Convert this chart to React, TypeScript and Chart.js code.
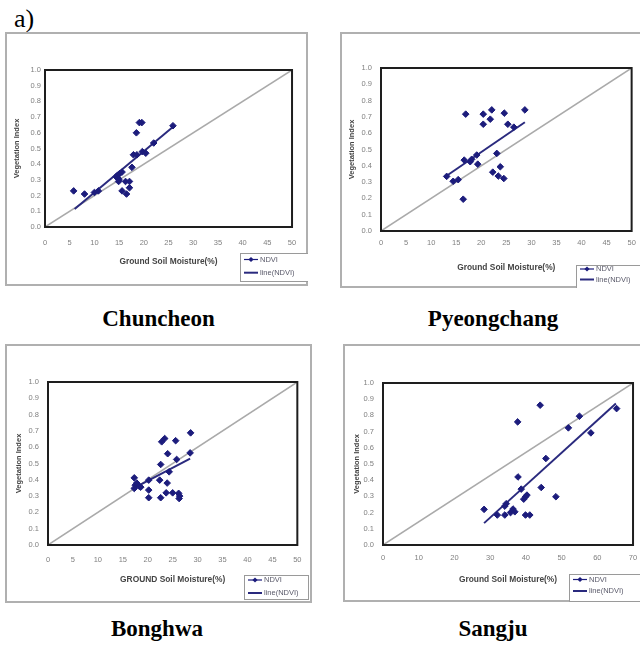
import React, { useEffect, useRef } from 'react';
import { Chart, registerables } from 'chart.js';

Chart.register(...registerables);

// ---------- DATA ----------
const chuncheonMoisture = [5.8, 8.0, 10.0, 10.8, 14.4, 14.7, 14.8, 14.9, 15.0, 15.1, 15.6, 15.6, 16.3, 16.5, 17.1, 17.1, 17.6, 17.9, 18.6, 18.5, 19.1, 19.6, 19.7, 20.4, 22.0, 25.9];
const chuncheonNdvi = [0.23, 0.21, 0.22, 0.23, 0.32, 0.33, 0.31, 0.29, 0.30, 0.34, 0.35, 0.23, 0.29, 0.21, 0.29, 0.25, 0.38, 0.46, 0.46, 0.60, 0.665, 0.665, 0.48, 0.47, 0.535, 0.645];
const chuncheonTrendX = [6.0, 26.0];
const chuncheonTrendY = [0.115, 0.64];

const pyeongchangMoisture = [13.1, 14.4, 15.4, 16.4, 16.6, 16.9, 17.8, 18.1, 19.1, 19.3, 20.4, 20.4, 21.8, 22.1, 22.3, 23.1, 23.4, 23.8, 24.5, 24.6, 25.3, 26.5, 28.7];
const pyeongchangNdvi = [0.335, 0.305, 0.315, 0.195, 0.435, 0.717, 0.425, 0.44, 0.466, 0.41, 0.717, 0.655, 0.686, 0.743, 0.361, 0.476, 0.337, 0.394, 0.322, 0.723, 0.655, 0.637, 0.743];
const pyeongchangTrendX = [13.1, 28.7];
const pyeongchangTrendY = [0.339, 0.667];

const bonghwaMoisture = [17.3, 17.5, 17.3, 17.8, 18.3, 18.6, 20.2, 20.2, 20.2, 22.4, 22.6, 22.6, 22.8, 23.4, 23.7, 23.9, 24.0, 24.3, 25.0, 25.6, 25.8, 26.2, 26.4, 26.3, 28.5, 28.6];
const bonghwaNdvi = [0.412, 0.367, 0.347, 0.38, 0.36, 0.355, 0.398, 0.337, 0.29, 0.398, 0.494, 0.29, 0.633, 0.653, 0.32, 0.38, 0.56, 0.449, 0.32, 0.64, 0.525, 0.317, 0.30, 0.285, 0.565, 0.688];
const bonghwaTrendX = [17.6, 28.5];
const bonghwaTrendY = [0.355, 0.53];

const sangjuMoisture = [28.3, 32.0, 34.1, 34.1, 34.5, 35.7, 36.4, 36.9, 37.7, 37.8, 38.7, 39.4, 39.9, 40.3, 39.9, 41.1, 44.0, 44.3, 45.6, 48.4, 51.9, 55.0, 58.2, 65.4];
const sangjuNdvi = [0.22, 0.185, 0.185, 0.24, 0.255, 0.2, 0.222, 0.205, 0.76, 0.42, 0.345, 0.283, 0.298, 0.308, 0.185, 0.185, 0.863, 0.355, 0.534, 0.298, 0.723, 0.795, 0.692, 0.842];
const sangjuTrendX = [28.3, 65.2];
const sangjuTrendY = [0.135, 0.873];

const diagonalY = [0, 1];
const yAxisMin = 0;
const yAxisMax = 1;
const yAxisStep = 0.1;
const xAxisMaxes = [50, 50, 50, 70];
const xAxisSteps = [5, 5, 5, 10];
const xTitles = ['Ground Soil Moisture(%)', 'Ground Soil Moisture(%)', 'GROUND Soil Moisture(%)', 'Ground Soil Moisture(%)'];
const siteNames = ['Chuncheon', 'Pyeongchang', 'Bonghwa', 'Sangju'];
const legendLabels = ['NDVI', 'line(NDVI)'];
const yTitle = 'Vegetation Index';

// ---------- LAYOUT ----------
const FONT = '"Liberation Sans", Arial, sans-serif';
const SERIF = '"Liberation Serif", "Times New Roman", serif';
const NAVY = '#1c1c7c';
const TREND = '#2a2a7e';

const layouts = [
  { box: { x: 5, y: 32, w: 303, h: 254 }, plot: { l: 40, t: 38, r: 291, b: 195 }, xTickPad: 11.8, yTickPad: 4, yTitlePad: 7.5, xTitlePad: 19.5, legend: { x: 235, y: 221, w: 69, h: 28, r1: 6.5, r2: 19.7 }, caption: { cx: 158.5, base: 326 } },
  { box: { x: 340, y: 32, w: 303, h: 256 }, plot: { l: 41, t: 36, r: 296, b: 199 }, xTickPad: 7.2, yTickPad: 9, yTitlePad: 7.8, xTitlePad: 14.9, legend: { x: 236, y: 233, w: 72, h: 23, r1: 4, r2: 14.5 }, caption: { cx: 493, base: 326 } },
  { box: { x: 5, y: 344, w: 307, h: 259 }, plot: { l: 43, t: 38, r: 297, b: 201 }, xTickPad: 10.5, yTickPad: 9, yTitlePad: 9.8, xTitlePad: 18.2, legend: { x: 239, y: 231, w: 64, h: 24, r1: 5, r2: 18 }, caption: { cx: 157, base: 636 } },
  { box: { x: 343, y: 344, w: 303, h: 258 }, plot: { l: 40, t: 39, r: 292, b: 201 }, xTickPad: 8.8, yTickPad: 9, yTitlePad: 9.8, xTitlePad: 17.2, legend: { x: 226, y: 230, w: 76, h: 27, r1: 5.5, r2: 17 }, caption: { cx: 493, base: 636 } },
];

const seriesX = [chuncheonMoisture, pyeongchangMoisture, bonghwaMoisture, sangjuMoisture];
const seriesY = [chuncheonNdvi, pyeongchangNdvi, bonghwaNdvi, sangjuNdvi];
const trendXs = [chuncheonTrendX, pyeongchangTrendX, bonghwaTrendX, sangjuTrendX];
const trendYs = [chuncheonTrendY, pyeongchangTrendY, bonghwaTrendY, sangjuTrendY];

function Panel({ idx }: { idx: number }) {
  const ref = useRef<HTMLCanvasElement>(null);
  const L = layouts[idx];
  useEffect(() => {
    const canvas = ref.current;
    if (!canvas) return;
    const W = L.box.w;
    const H = L.box.h;
    const xMax = xAxisMaxes[idx];
    const framePlugin = {
      id: 'frameLegend',
      afterDraw(chart: any) {
        const { ctx, chartArea: a } = chart;
        ctx.save();
        ctx.strokeStyle = '#1e1e1e';
        ctx.lineWidth = 2;
        ctx.strokeRect(a.left, a.top, a.right - a.left, a.bottom - a.top);
        const lg = L.legend;
        ctx.fillStyle = '#ffffff';
        ctx.fillRect(lg.x, lg.y, lg.w, lg.h);
        ctx.lineWidth = 1;
        ctx.strokeStyle = '#9a9a9a';
        ctx.strokeRect(lg.x + 0.5, lg.y + 0.5, lg.w, lg.h);
        const rowsY = [lg.y + lg.r1, lg.y + lg.r2];
        ctx.strokeStyle = NAVY;
        ctx.lineWidth = 1.2;
        ctx.beginPath();
        ctx.moveTo(lg.x + 4, rowsY[0]);
        ctx.lineTo(lg.x + 18, rowsY[0]);
        ctx.stroke();
        ctx.fillStyle = NAVY;
        ctx.beginPath();
        const cx = lg.x + 11, cy = rowsY[0];
        ctx.moveTo(cx, cy - 2.6);
        ctx.lineTo(cx + 2.6, cy);
        ctx.lineTo(cx, cy + 2.6);
        ctx.lineTo(cx - 2.6, cy);
        ctx.closePath();
        ctx.fill();
        ctx.strokeStyle = TREND;
        ctx.lineWidth = 2;
        ctx.beginPath();
        ctx.moveTo(lg.x + 4, rowsY[1]);
        ctx.lineTo(lg.x + 18, rowsY[1]);
        ctx.stroke();
        ctx.fillStyle = '#5a5a6a';
        ctx.font = `7.5px ${FONT}`;
        ctx.textBaseline = 'middle';
        ctx.textAlign = 'left';
        ctx.fillText(legendLabels[0], lg.x + 20, rowsY[0]);
        ctx.fillText(legendLabels[1], lg.x + 20, rowsY[1]);
        ctx.restore();
      },
    };
    const chart = new Chart(canvas, {
      type: 'scatter',
      data: {
        datasets: [
          {
            label: legendLabels[0],
            data: seriesX[idx].map((x, i) => ({ x, y: seriesY[idx][i] })),
            pointStyle: 'rectRot',
            pointRadius: 3.3,
            backgroundColor: NAVY,
            borderColor: NAVY,
            borderWidth: 1,
            order: 0,
          },
          {
            label: legendLabels[1],
            data: trendXs[idx].map((x, i) => ({ x, y: trendYs[idx][i] })),
            showLine: true,
            pointRadius: 0,
            borderColor: TREND,
            borderWidth: 2,
            order: 1,
          },
          {
            label: 'diagonal',
            data: [{ x: 0, y: diagonalY[0] }, { x: xMax, y: diagonalY[1] }],
            showLine: true,
            pointRadius: 0,
            borderColor: '#aaaaaa',
            borderWidth: 1.5,
            order: 2,
          },
        ],
      },
      options: {
        animation: false,
        responsive: false,
        devicePixelRatio: 1,
        events: [],
        layout: { padding: { left: 0, top: L.plot.t, right: W - L.plot.r, bottom: 0 } },
        plugins: { legend: { display: false }, tooltip: { enabled: false } },
        scales: {
          x: {
            type: 'linear',
            min: 0,
            max: xMax,
            grid: { display: false, drawTicks: false },
            border: { display: false },
            ticks: {
              stepSize: xAxisSteps[idx],
              padding: L.xTickPad,
              color: '#808080',
              font: { size: 7.5, family: FONT },
              maxRotation: 0,
              autoSkip: false,
            },
            title: {
              display: true,
              text: xTitles[idx],
              color: '#444444',
              font: { size: 8.4, weight: 'bold', family: FONT },
              padding: { top: 0, bottom: L.xTitlePad },
            },
            afterFit: (s: any) => {
              s.height = H - L.plot.b;
            },
          },
          y: {
            type: 'linear',
            min: yAxisMin,
            max: yAxisMax,
            grid: { display: false, drawTicks: false },
            border: { display: false },
            ticks: {
              stepSize: yAxisStep,
              padding: L.yTickPad,
              color: '#808080',
              font: { size: 7.5, family: FONT },
              callback: (v: any) => Number(v).toFixed(1),
            },
            title: {
              display: true,
              text: yTitle,
              color: '#444444',
              font: { size: 7.5, weight: 'bold', family: FONT },
              padding: { top: L.yTitlePad, bottom: 0 },
            },
            afterFit: (s: any) => {
              s.width = L.plot.l;
            },
          },
        },
      },
      plugins: [framePlugin],
    } as any);
    return () => chart.destroy();
  }, [idx]);

  return (
    <>
      <div
        style={{
          position: 'absolute',
          left: L.box.x,
          top: L.box.y,
          width: L.box.w,
          height: L.box.h,
          boxSizing: 'border-box',
          border: '2px solid #b0b0b0',
          background: '#ffffff',
        }}
      />
      <canvas
        ref={ref}
        width={L.box.w}
        height={L.box.h}
        style={{ position: 'absolute', left: L.box.x, top: L.box.y, width: L.box.w, height: L.box.h }}
      />
      <div
        style={{
          position: 'absolute',
          left: L.caption.cx - 150,
          width: 300,
          top: L.caption.base - 19.3,
          textAlign: 'center',
          fontFamily: SERIF,
          fontWeight: 'bold',
          fontSize: 23,
          lineHeight: '23px',
          color: '#000',
          whiteSpace: 'nowrap',
        }}
      >
        {siteNames[idx]}
      </div>
    </>
  );
}

export default function App() {
  return (
    <div
      style={{
        position: 'absolute',
        left: 0,
        top: 0,
        width: 640,
        height: 646,
        overflow: 'hidden',
        background: '#ffffff',
      }}
    >
      <div
        style={{
          position: 'absolute',
          left: 14,
          top: 6,
          fontFamily: SERIF,
          fontSize: 26,
          lineHeight: '26px',
          color: '#000',
        }}
      >
        a)
      </div>
      {[0, 1, 2, 3].map((i) => (
        <Panel key={i} idx={i} />
      ))}
    </div>
  );
}
